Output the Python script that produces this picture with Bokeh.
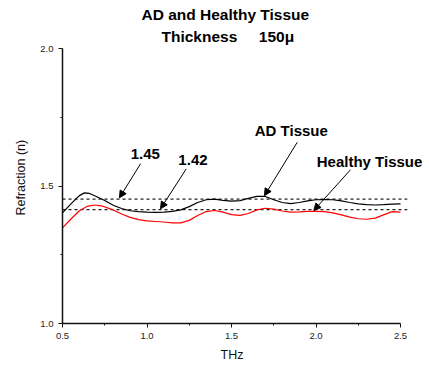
from bokeh.plotting import figure
from bokeh.models import (Range1d, FixedTicker, PrintfTickFormatter, Label,
                          Arrow, NormalHead, Title)
from bokeh.embed import file_html
from bokeh.resources import INLINE

# ---- data ----
freq_ad = [0.50, 0.55, 0.60, 0.63, 0.66, 0.70, 0.75, 0.80, 0.85, 0.90, 0.95, 1.00,
           1.05, 1.10, 1.15, 1.20, 1.25, 1.30, 1.35, 1.40, 1.45, 1.50, 1.55, 1.60,
           1.65, 1.70, 1.75, 1.80, 1.85, 1.90, 1.95, 2.00, 2.05, 2.10, 2.15, 2.20,
           2.25, 2.30, 2.35, 2.40, 2.45, 2.50]
n_ad = [1.402, 1.435, 1.465, 1.475, 1.473, 1.462, 1.447, 1.430, 1.418, 1.410, 1.407, 1.405,
        1.404, 1.405, 1.408, 1.413, 1.425, 1.440, 1.450, 1.452, 1.448, 1.445, 1.447, 1.455,
        1.462, 1.462, 1.450, 1.440, 1.436, 1.440, 1.446, 1.450, 1.451, 1.450, 1.446, 1.440,
        1.435, 1.432, 1.431, 1.432, 1.434, 1.435]

freq_healthy = [0.50, 0.55, 0.60, 0.65, 0.69, 0.73, 0.80, 0.85, 0.90, 0.95, 1.00, 1.05,
                1.10, 1.15, 1.20, 1.25, 1.30, 1.35, 1.40, 1.45, 1.50, 1.55, 1.60, 1.65,
                1.70, 1.75, 1.80, 1.85, 1.90, 1.95, 2.00, 2.05, 2.10, 2.15, 2.20, 2.25,
                2.30, 2.35, 2.40, 2.45, 2.50]
n_healthy = [1.348, 1.380, 1.410, 1.427, 1.431, 1.428, 1.413, 1.398, 1.386, 1.378, 1.373, 1.371,
             1.369, 1.366, 1.366, 1.375, 1.393, 1.407, 1.411, 1.405, 1.396, 1.393, 1.400, 1.413,
             1.419, 1.416, 1.409, 1.405, 1.406, 1.408, 1.408, 1.407, 1.402, 1.395, 1.387, 1.381,
             1.379, 1.383, 1.395, 1.407, 1.405]

ref_levels = [1.452, 1.414]
ref_labels = ["1.45", "1.42"]
ref_x_extent = [0.5, 2.54]

x_ticks = [0.5, 1.0, 1.5, 2.0, 2.5]
x_minor = [0.75, 1.25, 1.75, 2.25]
y_ticks = [1.0, 1.5, 2.0]
y_minor = [1.25, 1.75]

FONT = "Liberation Sans"

# frame extends right of 2.5 so the annotation text is not clipped
p = figure(width=429, height=368, output_backend="svg", toolbar_location=None,
           x_range=Range1d(0.5, 2.5 + 27 / 169), y_range=Range1d(1.0, 2.0),
           min_border_left=62, min_border_right=2, min_border_top=48, min_border_bottom=45)
p.title = None
p.outline_line_color = None
p.xgrid.visible = False
p.ygrid.visible = False
p.background_fill_color = "white"
p.border_fill_color = "white"

t2 = Title(text="Thickness\u00a0\u00a0\u00a0\u00a0\u00a0150\u03bc", align="left",
           text_font=FONT, text_font_size="15.5px", text_font_style="bold",
           text_color="black", offset=99, standoff=7, text_line_height=1.0)
t1 = Title(text="AD and Healthy Tissue", align="left",
           text_font=FONT, text_font_size="15.5px", text_font_style="bold",
           text_color="black", offset=79, standoff=0, text_line_height=1.0)
p.add_layout(t2, "above")
p.add_layout(t1, "above")

p.xaxis.ticker = FixedTicker(ticks=x_ticks, minor_ticks=x_minor)
p.yaxis.ticker = FixedTicker(ticks=y_ticks, minor_ticks=y_minor)
p.xaxis.bounds = (x_ticks[0], x_ticks[-1])
p.xaxis.formatter = PrintfTickFormatter(format="%.1f")
p.yaxis.formatter = PrintfTickFormatter(format="%.1f")
for ax in (p.xaxis, p.yaxis):
    ax.axis_line_width = 1.5
    ax.axis_line_color = "#111111"
    ax.major_tick_line_color = "#111111"
    ax.minor_tick_line_color = "#111111"
    ax.major_tick_out = 4
    ax.major_tick_in = 0
    ax.minor_tick_out = 2
    ax.minor_tick_in = 0
    ax.major_label_text_font = FONT
    ax.major_label_text_font_size = "9.5px"
    ax.major_label_text_color = "#222222"
p.xaxis.major_label_standoff = 5
p.yaxis.major_label_standoff = 5

# axis titles as Titles so they can be positioned like the reference
xlab = Title(text="THz", align="left", offset=158, standoff=8,
             text_font=FONT, text_font_size="12.5px", text_font_style="normal",
             text_color="#111111")
ylab = Title(text="Refraction (n)", align="left", offset=108, standoff=20,
             text_font=FONT, text_font_size="12.5px", text_font_style="normal",
             text_color="#111111", text_line_height=1.0)
p.add_layout(xlab, "below")
p.add_layout(ylab, "left")

for lvl in ref_levels:
    p.line(ref_x_extent, [lvl, lvl], line_color="#222222", line_width=1.2, line_dash="3 3")

p.line(freq_healthy, n_healthy, line_color="red", line_width=1.2)
p.line(freq_ad, n_ad, line_color="black", line_width=1.2)

# annotations: (text, text_x, text_y, arrow start x, y, arrow end x, y)
annots = [
    (ref_labels[0], 0.99, 1.615, 0.962, 1.581, 0.837, 1.457),
    (ref_labels[1], 1.272, 1.593, 1.232, 1.562, 1.080, 1.417),
    ("AD Tissue", 1.854, 1.703, 1.889, 1.659, 1.695, 1.465),
    ("Healthy Tissue", 2.317, 1.589, 2.204, 1.559, 1.987, 1.411),
]
for txt, tx, ty, xs, ys, xe, ye in annots:
    p.add_layout(Label(x=tx, y=ty, text=txt, text_font=FONT, text_font_size="15px",
                       text_font_style="bold", text_color="black",
                       text_align="center", text_baseline="middle"))
    p.add_layout(Arrow(x_start=xs, y_start=ys, x_end=xe, y_end=ye, line_width=1,
                       line_color="black",
                       end=NormalHead(size=7, fill_color="black", line_color="black")))

open("out.html", "w").write(file_html(p, INLINE))
